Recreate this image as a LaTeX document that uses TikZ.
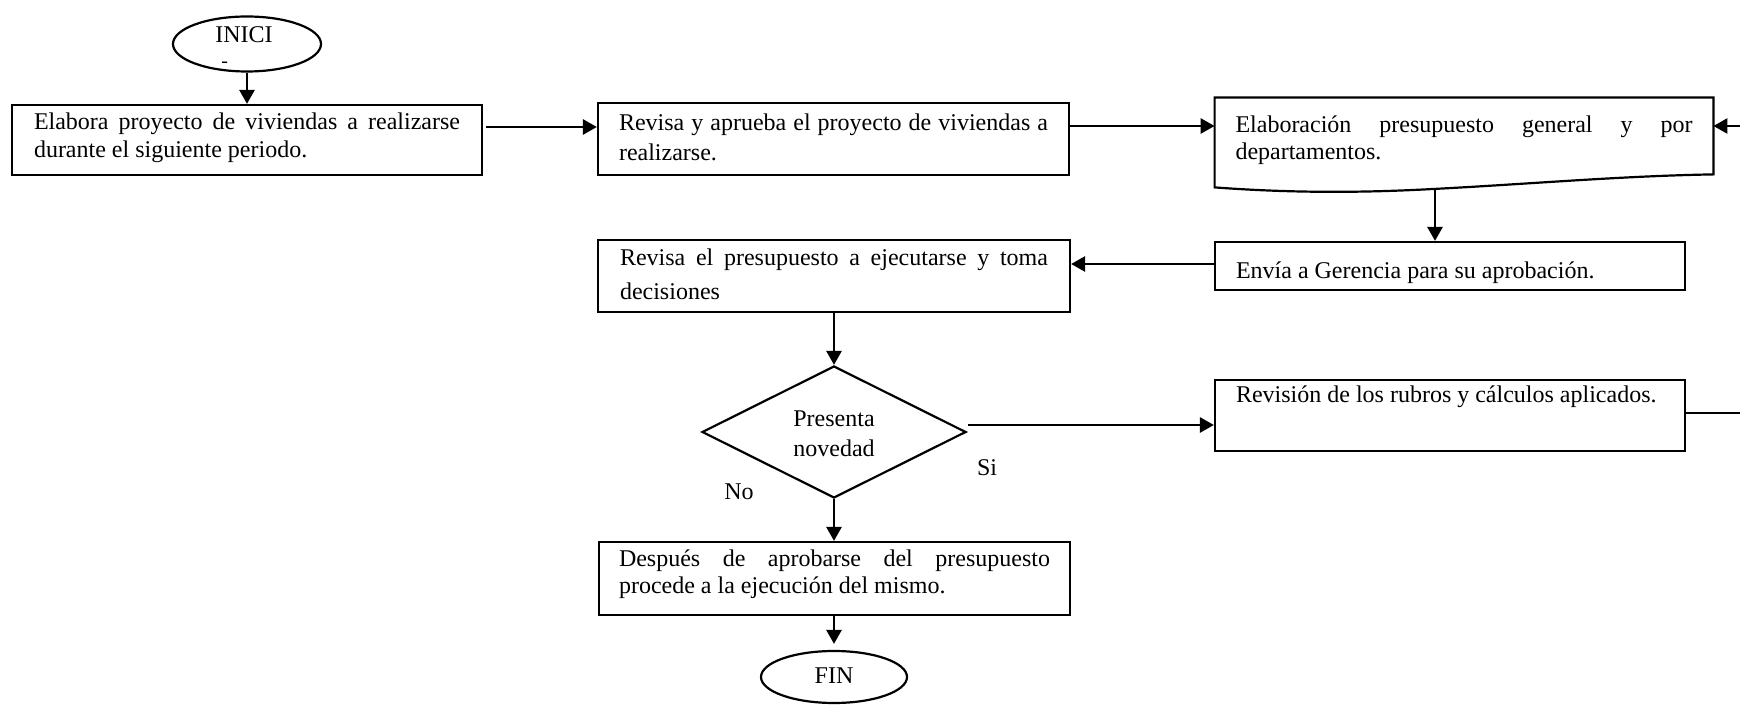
\documentclass[tikz,border=0pt]{standalone}
\usepackage{fontspec}
\setmainfont{Liberation Serif}
\usetikzlibrary{shapes.geometric,arrows.meta}
% justified box texts: no hyphenation, no complaints about loose lines
\hyphenpenalty=10000
\exhyphenpenalty=10000
\tolerance=10000
\hbadness=10000
\newcommand\lowstrut[1]{\rule[-#1]{0pt}{#1}}
\newcommand\highstrut[1]{\rule{0pt}{#1}}
% justified paragraph of a given width and line distance
\newcommand\boxtext[3]{\parbox{#1}{\fontsize{12}{#2}\selectfont #3}}

\begin{document}
\begin{tikzpicture}[x=0.5pt,y=-0.5pt,
  txt/.style={font=\fontsize{12}{14}\selectfont},
  proc/.style={txt, draw, line width=1.1pt, rectangle, inner sep=0pt},
  term/.style={txt, draw, line width=1.1pt, ellipse, inner sep=0pt},
  decision/.style={draw, line width=1.1pt, diamond, inner sep=0pt, align=center,
                   font=\fontsize{12}{15}\selectfont},
  conn/.style={line width=1.3pt},
  arr/.style={conn, -{Triangle[width=7.5pt,length=7pt]}},
  lbl/.style={txt, inner sep=0pt}]

\useasboundingbox (0,0) rectangle (1740,705);

% start terminal
\node[term, minimum width=74pt, minimum height=27.5pt] (ini) at (247,44)
  {\smash{\raisebox{0.5pt}{\makebox[0pt]{INICI\hspace*{3pt}}}}\smash{\raisebox{-12pt}{\makebox[0pt][r]{\fontsize{10}{10}\selectfont -\hspace*{9.5pt}}}}};

% process boxes
\node[proc, minimum width=235pt, minimum height=35pt] (b1) at (247,140)
  {\boxtext{213pt}{14pt}{Elabora proyecto de viviendas a realizarse durante el siguiente periodo.\lowstrut{4.4pt}}};
\node[proc, minimum width=235.5pt, minimum height=36pt] (b2) at (833.5,139)
  {\boxtext{214.5pt}{15pt}{Revisa y aprueba el proyecto de viviendas a realizarse.\lowstrut{2.1pt}}};

% document-shaped box
\node[txt, rectangle, inner sep=0pt, minimum width=249pt, minimum height=38pt] (b3) at (1464,136)
  {\boxtext{228.5pt}{13.8pt}{\highstrut{12.7pt}Elaboración presupuesto general y por departamentos.}};
\draw[line width=1.1pt] (b3.north west) -- (b3.north east) -- (b3.south east)
  .. controls (1620,176) and (1530,184) .. (1433,189)
  .. controls (1360,193) and (1290,193) .. ([yshift=-6.5pt]b3.south west) -- cycle;
\coordinate (b3out) at (1435,189.5);

\node[proc, minimum width=235pt, minimum height=24pt] (env) at (1450,266)
  {\boxtext{214pt}{14pt}{\highstrut{15.5pt}Envía a Gerencia para su aprobación.}};
\node[proc, minimum width=236pt, minimum height=36pt] (b4) at (834,276)
  {\boxtext{214pt}{16.8pt}{Revisa el presupuesto a ejecutarse y toma decisiones\lowstrut{1.7pt}}};

% decision
\node[decision, minimum width=132pt, minimum height=66pt] (dia) at (834,432)
  {\highstrut{10pt}Presenta\\novedad};

\node[proc, minimum width=235pt, minimum height=35.5pt] (rev) at (1450,415.5)
  {\boxtext{214pt}{14pt}{Revisión de los rubros y cálculos aplicados.\lowstrut{21.8pt}}};

\node[proc, minimum width=235.5pt, minimum height=36.5pt] (b5) at (834.5,578.5)
  {\boxtext{215.5pt}{13.5pt}{Después de aprobarse del presupuesto procede a la ejecución del mismo.\lowstrut{7pt}}};

% end terminal
\node[term, minimum width=73pt, minimum height=26pt] (fin) at (834,677) {FIN\lowstrut{1.5pt}};

% branch labels
\node[lbl] (si) at (987,467.5) {Si};
\node[lbl] (no) at (739,491.5) {No};

% loose ends of the return path
\coordinate (loopin) at (1740,126);
\coordinate (loopout) at (1740,413);

% connectors
\draw[arr] (ini.south) -- (b1.north);
\draw[arr] ([xshift=1.5pt,yshift=6.5pt]b1.east) -- ([yshift=6.5pt]b1.east -| b2.west);
\draw[arr] ([yshift=6.5pt]b2.east) -- ([yshift=6.5pt]b2.east -| b3.west);
\draw[arr] (loopin) -- (loopin -| b3.east);
\draw[arr] (b3out) -- (b3out |- env.north);
\draw[arr] ([yshift=1pt]env.west) -- ([yshift=1pt]env.west -| b4.east);
\draw[arr] (b4.south) -- (dia.north);
\draw[arr] ([xshift=0.5pt,yshift=3.5pt]dia.east) -- ([yshift=3.5pt]dia.east -| rev.west);
\draw[conn] (rev.east |- loopout) -- (loopout);
\draw[arr] (dia.south) -- (dia.south |- b5.north);
\draw[arr, shorten >=3pt] (fin.north |- b5.south) -- (fin.north);

\end{tikzpicture}
\end{document}
